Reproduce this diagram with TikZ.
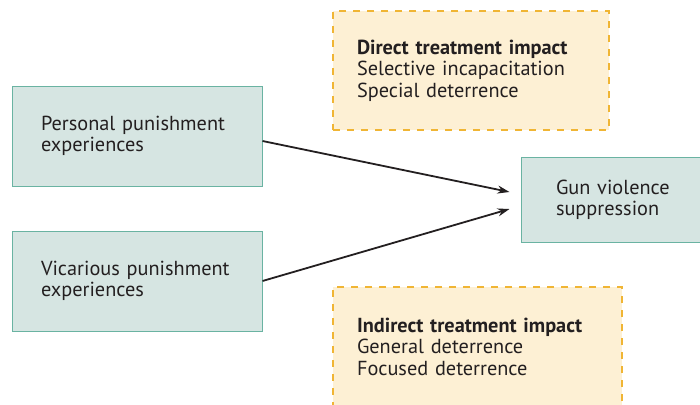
\documentclass[tikz,border=0pt]{standalone}
\usepackage{fontspec}
\setmainfont{PT Sans}
\usetikzlibrary{arrows.meta}
\definecolor{boxfill}{HTML}{D6E5E2}
\definecolor{boxline}{HTML}{6AB3A2}
\definecolor{notefill}{HTML}{FDF0D4}
\definecolor{noteline}{HTML}{F0B534}
\definecolor{inkline}{HTML}{231F20}

\begin{document}
\begin{tikzpicture}[x=1pt, y=-1pt]
	\tikzstyle{factor}=[
	draw=boxline,
	fill=boxfill,
	line width=1pt,
	rectangle,
	align=left,
	inner xsep=29pt,
	text width=192pt,
	minimum height=100pt,
	font=\fontsize{20.3}{21}\selectfont,
	text=inkline
	]
	\tikzstyle{impact}=[
	draw=noteline,
	fill=notefill,
	line width=1.3pt,
	dash pattern=on 7pt off 7pt,
	rectangle,
	align=left,
	inner xsep=24pt,
	minimum height=119pt,
	font=\fontsize{20.3}{21.5}\selectfont,
	text=inkline
	]
	\tikzstyle{link}=[
	draw=inkline,
	line width=1.8pt,
	-{Stealth[length=12pt,width=8pt]}
	]
	\useasboundingbox (0,0) rectangle (700,404);
	\clip (0,0) rectangle (700,404);
	% impact notes
	\node[impact, text width=228pt] (direct) at (471,70.5) {\textbf{Direct treatment impact}\\Selective incapacitation\\Special deterrence};
	\node[impact, text width=241pt] (indirect) at (477.5,346.5) {\textbf{Indirect treatment impact}\\General deterrence\\Focused deterrence};
	% causes and outcome
	\node[factor] (personal) at (137,136) {Personal punishment\\experiences};
	\node[factor] (vicarious) at (137,281) {Vicarious punishment\\experiences};
	\node[factor, inner xsep=35pt, text width=140pt, minimum height=85pt] (gun) at (626,199.5) {Gun violence\\suppression};
	\draw[link] ([yshift=-5pt]personal.east) -- ([xshift=-11pt, yshift=7.5pt]gun.west);
	\draw[link] (vicarious.east) -- ([xshift=-11pt, yshift=-9.5pt]gun.west);
\end{tikzpicture}
\end{document}
